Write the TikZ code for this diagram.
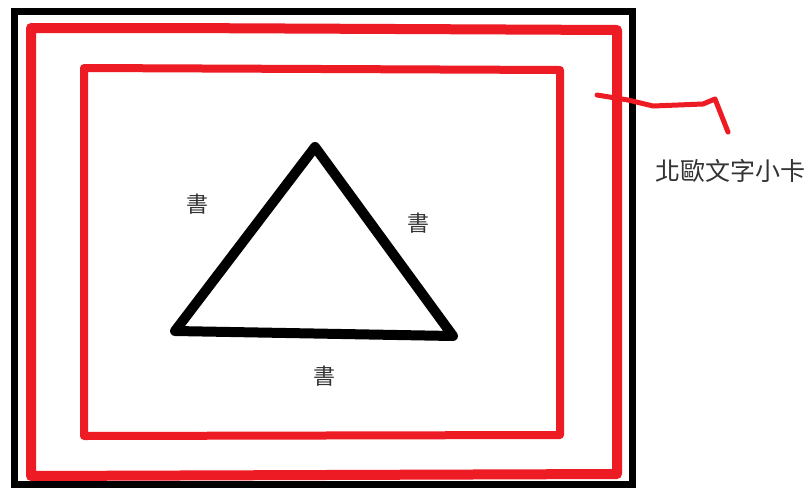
\documentclass[tikz,border=0pt]{standalone}
\usepackage{fontspec}
\newfontfamily\cjk{Noto Sans CJK TC}
\definecolor{pen}{HTML}{ED1C24}
\definecolor{txt}{HTML}{333333}
\begin{document}
\begin{tikzpicture}[x=1pt,y=-1pt,
  frame/.style={draw=black,line width=7pt},
  redpen/.style={draw=pen,line width=10pt,line join=round,line cap=round},
  redthin/.style={draw=pen,line width=8pt,line join=round,line cap=round},
  squig/.style={draw=pen,line width=5pt,line join=round,line cap=round},
  tri/.style={draw=black,line width=10pt,line join=round,line cap=round},
  lbl/.style={font=\cjk\fontsize{22}{22}\selectfont,text=txt,inner sep=0pt},
  cardlbl/.style={font=\cjk\fontsize{25}{25}\selectfont,text=txt,inner sep=0pt}]
\useasboundingbox (0,0) rectangle (811,488);
\fill[white] (0,0) rectangle (811,488);
% black frame
\draw[frame] (14,11) rectangle (632,484);
% outer red rectangle
\coordinate (o1) at (31,28);
\coordinate (o2) at (175,28);
\coordinate (o3) at (617,30);
\coordinate (o4) at (617,474);
\coordinate (o5) at (31,476);
\draw[redpen] (o1) -- (o2) -- (o3) -- (o4) -- (o5) -- cycle;
% inner red rectangle
\coordinate (i1) at (84,68);
\coordinate (i2) at (560,70);
\coordinate (i3) at (560,435);
\coordinate (i4) at (84,436);
\draw[redthin] (i1) -- (i2) -- (i3) -- (i4) -- cycle;
% squiggle pointer
\coordinate (s0) at (597,95);
\coordinate (s1) at (628,100);
\coordinate (s2) at (653,106);
\coordinate (s3) at (703,104);
\coordinate (s4) at (715,99);
\coordinate (s5) at (728,132);
\draw[squig] (s0) -- (s1) -- (s2) -- (s3) -- (s4) -- (s5);
\node[cardlbl] (card) at (730,171) {北歐文字小卡};
% triangle
\coordinate (ta) at (315,147);
\coordinate (tb) at (175,331);
\coordinate (tc) at (453,336);
\draw[tri] (ta) -- (tc) -- (tb) -- cycle;
\node[lbl] (b1) at (197,204) {書};
\node[lbl] (b2) at (418,223) {書};
\node[lbl] (b3) at (324,376) {書};
\end{tikzpicture}
\end{document}
